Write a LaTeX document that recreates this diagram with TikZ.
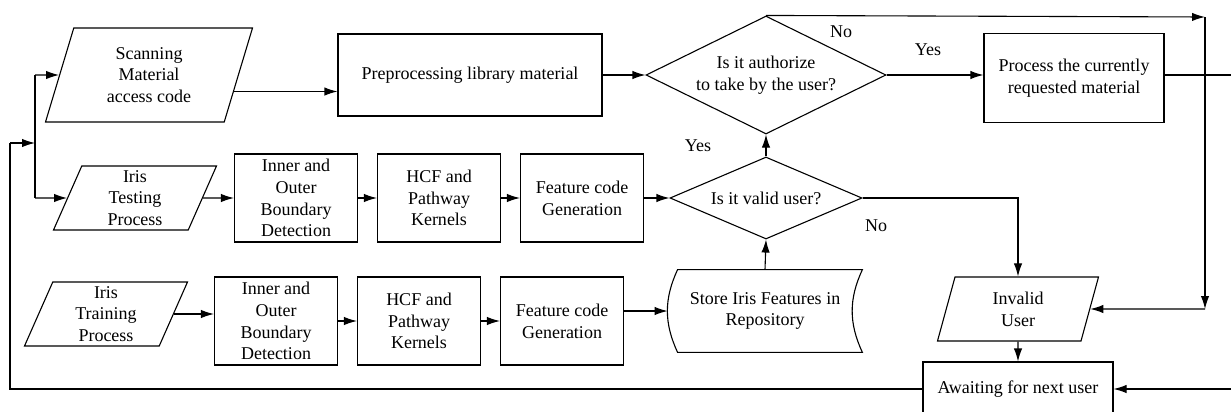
\documentclass[tikz,border=0pt]{standalone}
\usepackage{fontspec}
\setmainfont{Liberation Serif}
\usetikzlibrary{shapes.geometric, arrows.meta}

\tikzset{
  flow/.style={line width=0.55pt, -{Latex[length=6.5pt,width=4.2pt]}},
  line/.style={line width=0.55pt},
  procbox/.style={draw, line width=0.55pt, rectangle, align=center, inner sep=0.5pt},
  stagebox/.style={procbox, minimum width=61.5pt, minimum height=44pt},
  iobox/.style={draw, line width=0.55pt, trapezium, trapezium left angle=63, trapezium right angle=117, trapezium stretches body, align=center, inner sep=0pt},
  decision/.style={draw, line width=0.55pt, diamond, aspect=2, align=center, inner sep=0pt},
  lbl/.style={inner sep=0pt}
}

\begin{document}
\begin{tikzpicture}[x=0.5pt, y=-0.5pt, font=\fontsize{9}{10.85}\selectfont]
  \useasboundingbox (0,0) rectangle (1231,412);

  % top row
  \node[iobox, minimum width=103.5pt, minimum height=47pt] (scan) at (149,75) {Scanning\\Material\\access code};
  \node[procbox, minimum width=132pt, minimum height=41pt] (prep) at (470,75) {Preprocessing library material};
  \node[decision, minimum width=120pt, minimum height=59pt] (auth) at (766,75) {Is it authorize\\to take by the user?};
  \node[procbox, minimum width=90pt, minimum height=44.5pt] (proc) at (1074,78) {Process the currently\\requested material};

  % testing row
  \node[iobox, minimum width=81.5pt, minimum height=32pt] (test) at (135,198) {Iris\\Testing\\Process};
  \node[stagebox] (innerT) at (296,198) {Inner and\\Outer\\Boundary\\Detection};
  \node[stagebox] (hcfT) at (439,198) {HCF and\\Pathway\\Kernels};
  \node[stagebox] (featT) at (582,198) {Feature code\\Generation};
  \node[decision, minimum width=96pt, minimum height=41pt] (valid) at (766,198) {Is it valid user?};

  % training row
  \node[iobox, minimum width=81.5pt, minimum height=32pt] (train) at (106,314) {Iris\\Training\\Process};
  \node[stagebox] (innerR) at (276,321) {Inner and\\Outer\\Boundary\\Detection};
  \node[stagebox] (hcfR) at (419,321) {HCF and\\Pathway\\Kernels};
  \node[stagebox] (featR) at (562,321) {Feature code\\Generation};
  \node[align=center, inner sep=0pt, minimum width=97pt, minimum height=41pt] (store) at (765,311) {Store Iris Features in\\Repository};
  \draw[line] ([xshift=5pt]store.south west) to[bend left=25] ([xshift=5pt]store.north west)
    -- (store.north east) to[bend right=25] (store.south east) -- cycle;

  % right side
  \node[iobox, minimum width=80.5pt, minimum height=32pt] (inv) at (1018,309) {Invalid\\User};
  \node[procbox, minimum width=95pt, minimum height=27pt] (wait) at (1018,389) {Awaiting for next user};

  % labels
  \node[lbl] (noA) at (841,32) {No};
  \node[lbl] (yesA) at (928,50) {Yes};
  \node[lbl] (yesV) at (698,146) {Yes};
  \node[lbl] (noV) at (876,226) {No};

  % corner points
  \coordinate (busT) at (35,75);
  \coordinate (busB) at (35,198);
  \coordinate (back) at (10,143);
  \coordinate (topR) at (1205,17);
  \coordinate (midR) at (1205,309);
  \coordinate (outR) at (1231,75);
  \coordinate (inR) at (1231,389);

  % connectors
  \draw[flow] (busT) -- (scan.west);
  \draw[line] (busT) -- (busB);
  \draw[flow] (busB) -- (test.west);
  \draw[flow] (scan.-11) -- (scan.-11 -| prep.west);
  \draw[flow] (prep.east) -- (auth.west);
  \draw[flow] (auth.east) -- (auth.east -| proc.west);
  \draw[line] (auth.east -| proc.east) -- (outR);
  \draw[flow] (auth.north) -- (topR);
  \draw[flow] (topR) -- (midR);
  \draw[flow] (midR) -- (inv.east);

  \draw[flow] (test.east) -- (innerT.west);
  \draw[flow] (innerT) -- (hcfT);
  \draw[flow] (hcfT) -- (featT);
  \draw[flow] (featT) -- (valid.west);
  \draw[flow] (valid.north) -- (auth.south);
  \draw[flow] (valid.east) -| (inv.north);

  \draw[flow] (train.east) -- (train.east -| innerR.west);
  \draw[flow] (innerR) -- (hcfR);
  \draw[flow] (hcfR) -- (featR);
  \draw[flow] (featR.east |- store.west) -- (store.west);
  \draw[flow] (store.north) -- (valid.south);

  \draw[flow] (inv) -- (wait);
  \draw[flow] (inR) -- (wait.east);
  \draw[line] (wait.west) -| (back);
  \draw[flow] (back) -- (back -| busT);
\end{tikzpicture}
\end{document}
